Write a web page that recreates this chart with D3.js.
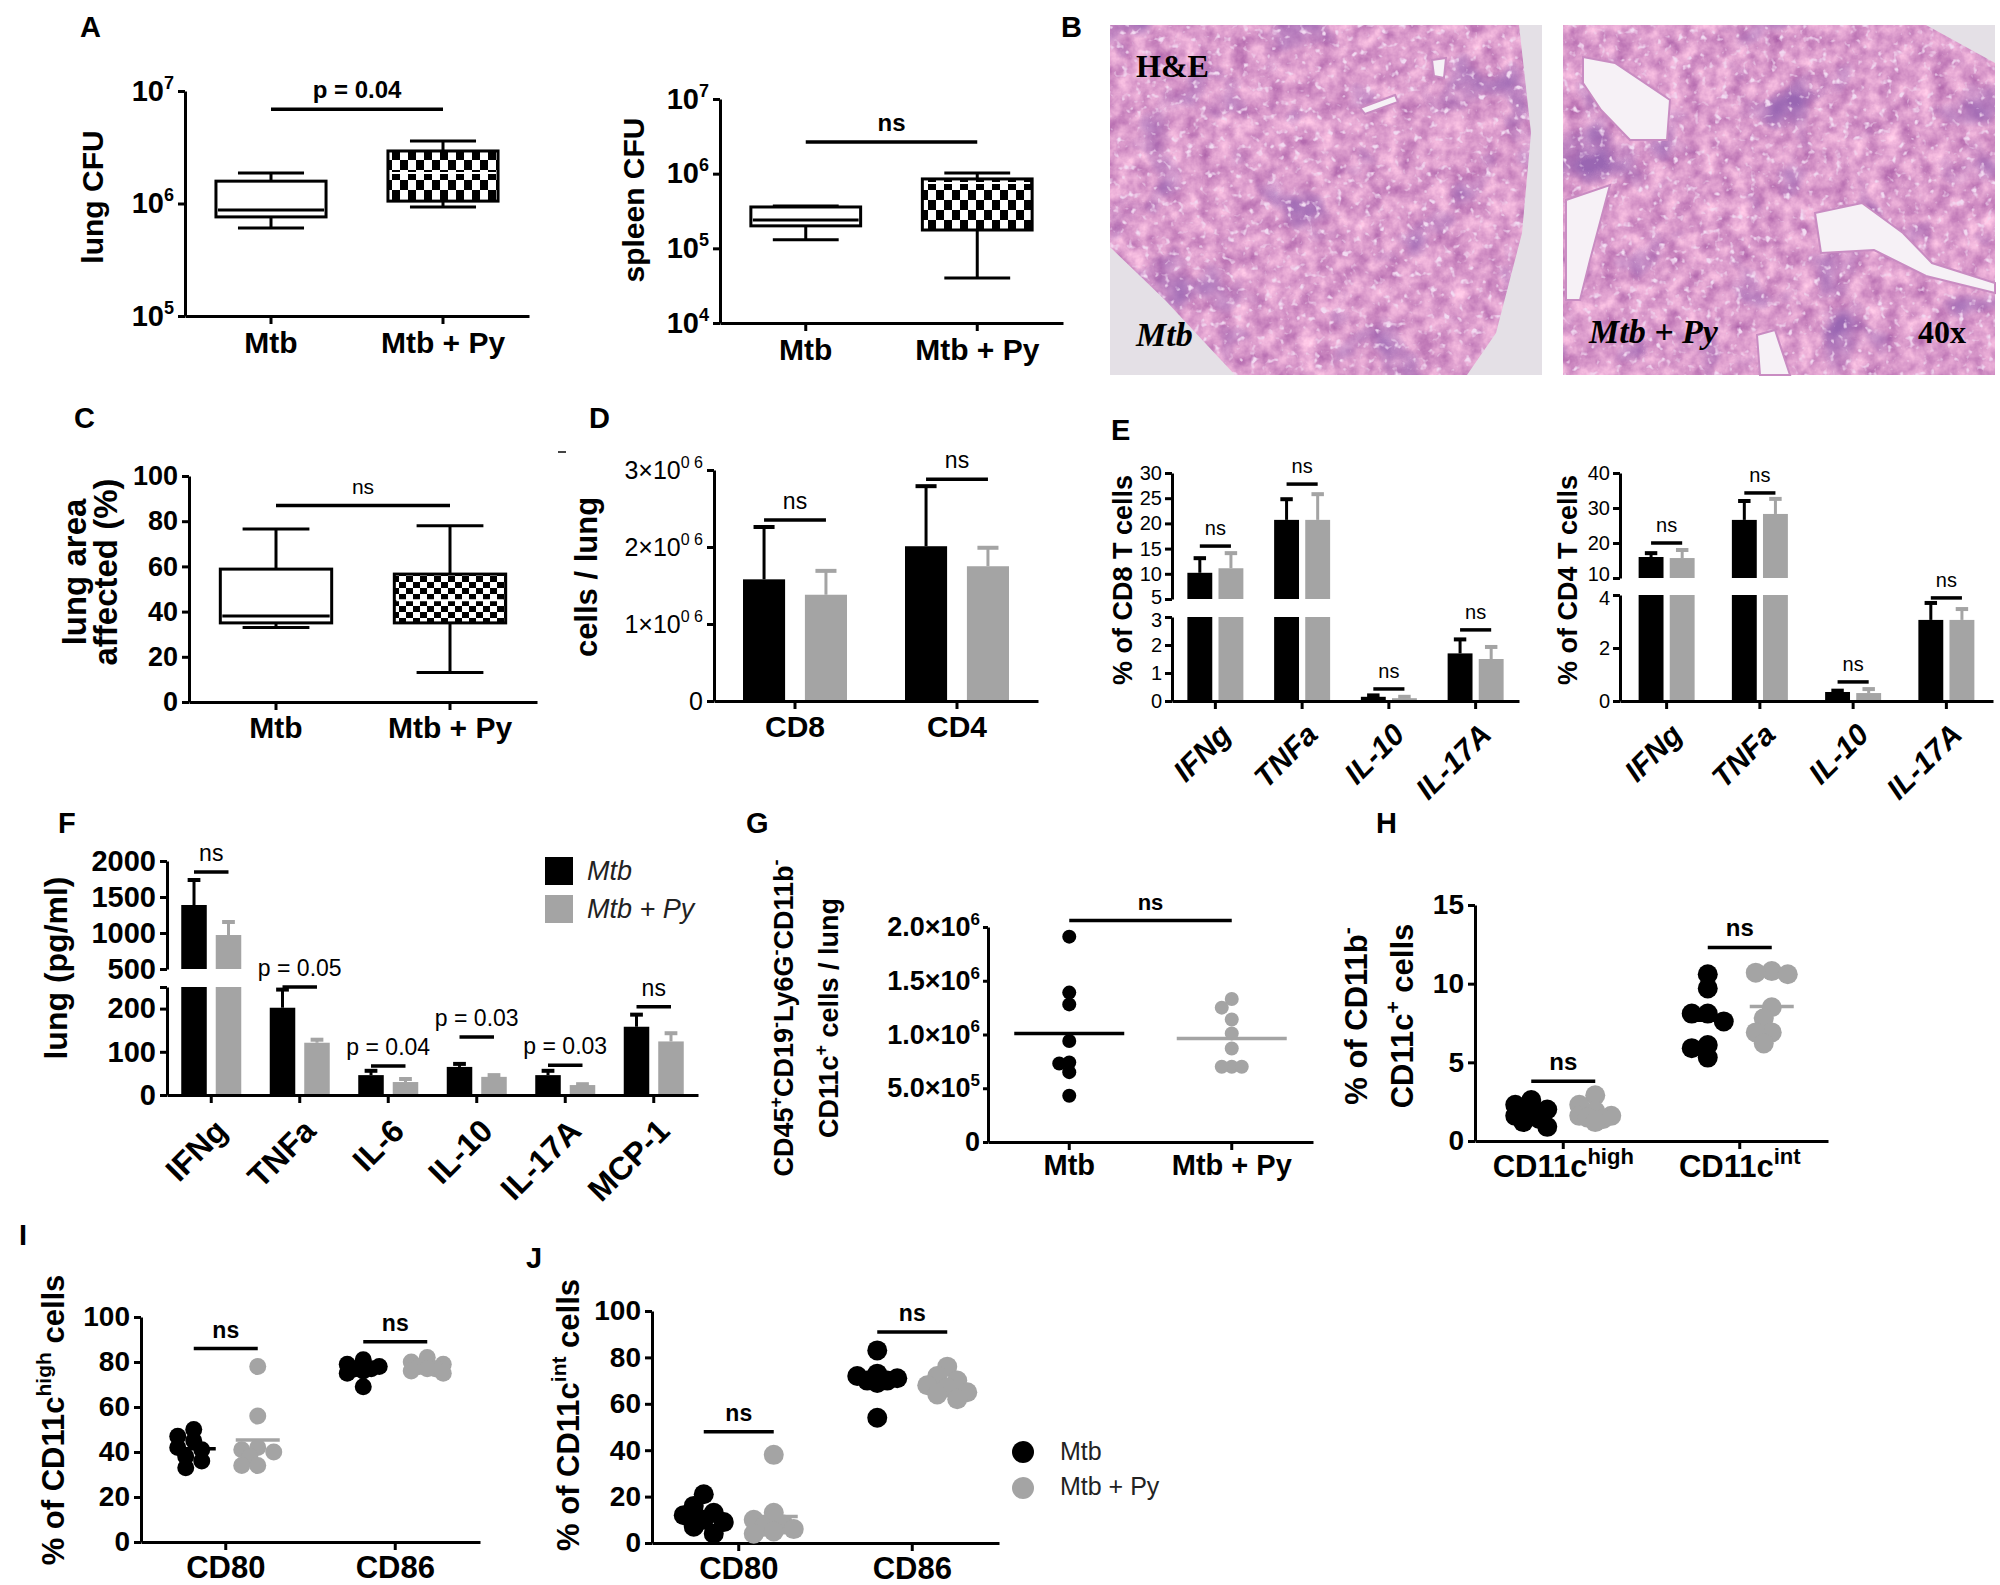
<!DOCTYPE html>
<html>
<head>
<meta charset="utf-8">
<script src="https://d3js.org/d3.v7.min.js"></script>
<style>
  body { margin: 0; background: #fff; }
  svg { display: block; }
</style>
</head>
<body>
<svg id="fig" width="2000" height="1585"></svg>
<script>
// ---------------- data ----------------
const groups = ['Mtb', 'Mtb + Py'];

// box plots, each [min, q1, median, q3, max]
const lungCfu = [[6.05e5, 7.6e5, 8.75e5, 1.58e6, 1.87e6], [9.3e5, 1.05e6, 1.87e6, 2.93e6, 3.6e6]];
const spleenCfu = [[1.3e5, 2.0e5, 2.4e5, 3.58e5, 3.7e5], [4.0e4, 1.76e5, 7.5e5, 8.5e5, 1.02e6]];
const lungArea = [[33, 35, 38, 58.8, 76.5], [13, 35, 45, 56.6, 78]];

// D: T cells per lung
const tCells = ['CD8', 'CD4'];
const cellsMtb = [1.58e6, 2.01e6];
const cellsMtbErr = [0.68e6, 0.78e6];
const cellsPy = [1.38e6, 1.75e6];
const cellsPyErr = [0.31e6, 0.24e6];

// E: intracellular cytokines
const eCytokines = ['IFNg', 'TNFa', 'IL-10', 'IL-17A'];
const cd8Mtb = [10.2, 20.7, 0.15, 1.7];
const cd8MtbErr = [2.9, 4.1, 0.05, 0.5];
const cd8Py = [11.1, 20.7, 0.1, 1.5];
const cd8PyErr = [3.0, 5.1, 0.05, 0.43];
const cd4Mtb = [16, 26.6, 0.34, 3.06];
const cd4MtbErr = [1.1, 5.4, 0.05, 0.64];
const cd4Py = [15.7, 28.3, 0.3, 3.06];
const cd4PyErr = [2.3, 4.3, 0.15, 0.41];

// F: lung cytokines (pg/ml)
const fCytokines = ['IFNg', 'TNFa', 'IL-6', 'IL-10', 'IL-17A', 'MCP-1'];
const lungMtb = [1389, 202, 46, 65, 46, 158];
const lungMtbErr = [347, 42, 10, 7, 10, 28];
const lungPy = [972, 121, 30, 42, 23, 124];
const lungPyErr = [181, 7, 7, 4, 2, 19];
const fStats = ['ns', 'p = 0.05', 'p = 0.04', 'p = 0.03', 'p = 0.03', 'ns'];

// G: cells per lung
const gMtb = [1.91e6, 1.39e6, 1.28e6, 0.94e6, 0.74e6, 0.73e6, 0.65e6, 0.43e6];
const gPy = [1.33e6, 1.25e6, 1.14e6, 1.01e6, 0.87e6, 0.70e6, 0.70e6, 0.70e6];

// H: subsets
const subsets = ['CD11c^{high}', 'CD11c^{int}'];
const hMtb = [[2.6, 2.3, 2.0, 1.8, 1.6, 1.4, 1.2, 0.9], [10.6, 9.7, 8.1, 8.1, 7.6, 6.1, 5.9, 5.3]];
const hPy = [[2.9, 2.3, 1.9, 1.6, 1.6, 1.5, 1.4, 1.2], [10.8, 10.7, 10.6, 8.5, 7.8, 6.9, 6.9, 6.2]];

// I, J: activation markers
const markers = ['CD80', 'CD86'];
const iMtb = [[50, 47, 45, 42, 41, 38, 36, 33], [81, 79, 78, 77, 77, 76, 75, 69]];
const iPy = [[78, 56, 42, 41, 40, 38, 34, 34], [82, 80, 79, 78, 77, 77, 76, 75]];
const jMtb = [[21, 16, 13, 12, 10, 9, 7, 4], [83, 73, 72, 71, 70, 70, 69, 54]];
const jPy = [[38, 13, 10, 8, 7, 6, 5, 4], [76, 72, 70, 68, 67, 65, 64, 62]];

// significance bar heights (data units)
const aBars = [6.9e6, 2.65e6];
const cBar = 87;
const dBars = [2.35e6, 2.88e6];
const eBars8 = [15.5, 27.8, 0.43, 2.54];
const eBars4 = [20, 34.3, 0.72, 3.89];
const fBars = [1847, 250, 67, 134, 69, 204];
const gBar = 2.06e6;
const hBars = [3.8, 12.3];
const iBars = [86, 89];
const jBars = [48, 91];

// ---------------- setup ----------------
const SANS = '"Liberation Sans", Arial, Helvetica, sans-serif';
const SERIF = '"Liberation Serif", "Times New Roman", serif';
const DARK = '#000';
const GREY = '#a4a4a4';
const LINE = 3;

const svg = d3.select('#fig');
const defs = svg.append('defs');
svg.append('rect').attr('width', 2000).attr('height', 1585).attr('fill', '#fff');

function checker(id, w, h) {
  const p = defs.append('pattern').attr('id', id).attr('patternUnits', 'userSpaceOnUse')
    .attr('width', 2 * w).attr('height', 2 * h);
  p.append('rect').attr('width', 2 * w).attr('height', 2 * h).attr('fill', '#fff');
  p.append('rect').attr('width', w).attr('height', h).attr('fill', DARK);
  p.append('rect').attr('x', w).attr('y', h).attr('width', w).attr('height', h).attr('fill', DARK);
}
checker('chkA', 8, 10);
checker('chkC', 7, 6);

// text with ^{sup} parts
function rich(t, str, fs, supFs) {
  t.text(null);
  let raised = false;
  String(str).split(/(\^\{[^}]*\})/).filter(s => s.length).forEach(p => {
    const m = p.match(/^\^\{([^}]*)\}$/);
    if (m) {
      t.append('tspan').attr('font-size', supFs).attr('dy', -fs * 0.42).text(m[1]);
      raised = true;
    } else {
      const sp = t.append('tspan').text(p);
      if (raised) { sp.attr('dy', fs * 0.42); raised = false; }
    }
  });
}

function label(g, x, y, str, fs, o = {}) {
  const t = g.append('text').attr('x', x).attr('y', y)
    .attr('text-anchor', o.anchor || 'start')
    .attr('font-family', o.family || SANS).attr('font-size', fs)
    .attr('font-weight', o.fw || 'normal').attr('font-style', o.italic ? 'italic' : 'normal')
    .attr('fill', o.fill || DARK);
  rich(t, str, fs, Math.round(fs * 0.68));
  return t;
}

function yLabel(g, lines, xs, cy, fs) {
  lines.forEach((s, i) => {
    const t = g.append('text').attr('transform', `translate(${xs[i]},${cy}) rotate(-90)`)
      .attr('text-anchor', 'middle').attr('font-family', SANS).attr('font-size', fs)
      .attr('font-weight', 'bold').attr('fill', DARK);
    rich(t, s, fs, Math.round(fs * 0.68));
  });
}

function styleAxis(ax, o) {
  ax.attr('font-family', null).attr('font-size', null);
  ax.select('.domain').attr('stroke', DARK).attr('stroke-width', LINE);
  ax.selectAll('.tick line').attr('stroke', DARK).attr('stroke-width', LINE);
  ax.selectAll('.tick text').attr('fill', DARK).attr('font-family', SANS)
    .attr('font-size', o.fs).attr('font-weight', o.fw || 'bold')
    .attr('font-style', o.italic ? 'italic' : 'normal');
}

function yAxis(g, scale, x, ticks, o) {
  const ax = g.append('g').attr('transform', `translate(${x},0)`)
    .call(d3.axisLeft(scale).tickValues(ticks).tickSize(o.ts || 7).tickSizeOuter(0)
      .tickPadding(o.pad || 4).tickFormat(o.fmt || (d => d)));
  styleAxis(ax, o);
  if (o.rich) ax.selectAll('.tick text').each(function (d) { rich(d3.select(this), o.rich(d), o.fs, o.supFs); });
  return ax;
}

function xAxis(g, band, y, o) {
  const ax = g.append('g').attr('transform', `translate(0,${y})`)
    .call(d3.axisBottom(band).tickSize(o.ts || 8).tickSizeOuter(0));
  styleAxis(ax, o);
  const txt = ax.selectAll('.tick text');
  if (o.rotate) {
    txt.attr('x', 0).attr('y', 0).attr('dy', '0.35em').attr('text-anchor', 'end')
      .attr('transform', `translate(${o.rotate[0]},${o.rotate[1]}) rotate(-45)`);
  } else {
    txt.attr('dy', null).attr('y', o.ly);
  }
  if (o.supFs) txt.each(function (d) { rich(d3.select(this), d, o.fs, o.supFs); });
  return ax;
}

function bracket(g, xa, xb, y, text, fs, fw) {
  g.append('line').attr('x1', xa).attr('x2', xb).attr('y1', y).attr('y2', y)
    .attr('stroke', DARK).attr('stroke-width', 3.5);
  label(g, (xa + xb) / 2, y - 11, text, fs, { anchor: 'middle', fw: fw || 'normal' });
}

const mid = (band, c) => band(c) + band.bandwidth() / 2;

function boxes(g, x, y, data, fill) {
  const bw = x.bandwidth() * 0.64, cw = bw * 0.6;
  data.forEach((s, i) => {
    const c = mid(x, groups[i]);
    const [lo, q1, md, q3, hi] = s.map(y);
    const st = sel => sel.attr('stroke', DARK).attr('stroke-width', LINE);
    st(g.append('line').attr('x1', c).attr('x2', c).attr('y1', hi).attr('y2', lo));
    st(g.append('line').attr('x1', c - cw / 2).attr('x2', c + cw / 2).attr('y1', hi).attr('y2', hi));
    st(g.append('line').attr('x1', c - cw / 2).attr('x2', c + cw / 2).attr('y1', lo).attr('y2', lo));
    st(g.append('rect').attr('x', c - bw / 2).attr('y', q3).attr('width', bw).attr('height', q1 - q3)
      .attr('fill', i ? fill : '#fff'));
    g.append('line').attr('x1', c - bw / 2 + 2).attr('x2', c + bw / 2 - 2).attr('y1', md).attr('y2', md)
      .attr('stroke', i ? '#fff' : DARK).attr('stroke-width', i ? 2 : LINE);
  });
}

function bars(g, o) {
  const sub = d3.scaleBand().domain([0, 1]).range(o.subRange).paddingInner(o.subPad);
  const bw = sub.bandwidth();
  const segOf = v => o.segs.find(s => v <= s.domain[1]) || o.segs[o.segs.length - 1];
  const yOf = v => segOf(v).scale(v);
  const cx = (c, si) => mid(o.x, c) + sub(si) + bw / 2;
  o.series.forEach((s, si) => {
    o.cats.forEach((c, ci) => {
      const v = s.vals[ci], top = yOf(v + s.errs[ci]), x = cx(c, si);
      g.append('line').attr('x1', x).attr('x2', x).attr('y1', yOf(v)).attr('y2', top)
        .attr('stroke', s.color).attr('stroke-width', LINE);
      g.append('line').attr('x1', x - bw * 0.25).attr('x2', x + bw * 0.25).attr('y1', top).attr('y2', top)
        .attr('stroke', s.color).attr('stroke-width', LINE + 1);
      o.segs.forEach(sg => {
        if (v <= sg.domain[0]) return;
        const y1 = sg.scale(Math.min(v, sg.domain[1])), y0 = sg.scale(sg.domain[0]);
        g.append('rect').attr('x', x - bw / 2).attr('y', y1).attr('width', bw).attr('height', y0 - y1)
          .attr('fill', s.color);
      });
    });
  });
  return { yOf, cx };
}

function segments(list) {
  return list.map(s => ({ ...s, scale: d3.scaleLinear().domain(s.domain).range(s.range) }));
}

// broken axis: one axis per segment; the two labels either side of the break are nudged apart
function brokenAxis(g, segs, x, o) {
  const base = 0.32 * o.fs;
  segs.forEach((s, i) => {
    const ax = yAxis(g, s.scale, x, s.ticks, o);
    ax.selectAll('.tick text').filter(d => i === 0 && d === s.domain[1]).attr('dy', base + o.shift[0]);
    ax.selectAll('.tick text').filter(d => i === 1 && d === s.domain[0]).attr('dy', base - o.shift[1]);
  });
}

// simple beeswarm: spread points that would overlap, limited to a few steps either side
function swarm(vals, y, cx, r, step, maxK) {
  const pts = vals.map(v => ({ v, y: y(v) })).sort((a, b) => a.y - b.y);
  const done = [];
  pts.forEach(p => {
    let best = 0, bestD = -1;
    for (let k = 0; k <= maxK; k++) {
      const off = Math.ceil(k / 2) * step * (k % 2 ? -1 : 1);
      const dmin = done.length ? d3.min(done, q => Math.hypot(q.x - cx - off, q.y - p.y)) : Infinity;
      if (dmin >= r * 1.25) { best = off; break; }
      if (dmin > bestD) { bestD = dmin; best = off; }
    }
    p.x = cx + best;
    done.push(p);
  });
  return done;
}

function scatter(g, vals, y, cx, o, color) {
  swarm(vals, y, cx, o.r, o.step, o.maxK).forEach(p => {
    g.append('circle').attr('cx', p.x).attr('cy', p.y).attr('r', o.r).attr('fill', color);
  });
  const m = y(d3.mean(vals));
  g.append('line').attr('x1', cx - o.half).attr('x2', cx + o.half).attr('y1', m).attr('y2', m)
    .attr('stroke', color).attr('stroke-width', LINE + 0.5);
}

// ---------------- panel letters ----------------
const letters = ['A', 'B', 'C', 'D', 'E', 'F', 'G', 'H', 'I', 'J'];
const letterPos = [[80, 37], [1061, 37], [74, 428], [589, 428], [1111, 440], [58, 833], [746, 833], [1376, 833], [19, 1245], [526, 1268]];
letters.forEach((l, i) => label(svg, letterPos[i][0], letterPos[i][1], l, 29, { fw: 'bold' }));

const pow10 = d => `10^{${Math.round(Math.log10(d))}}`;

// ---------------- A: lung CFU ----------------
{
  const g = svg.append('g');
  const y = d3.scaleLog().domain([1e5, 1e7]).range([316, 91]);
  const x = d3.scaleBand().domain(groups).range([185, 529]);
  boxes(g, x, y, lungCfu, 'url(#chkA)');
  yAxis(g, y, 185, [1e5, 1e6, 1e7], { fs: 29, supFs: 18, rich: pow10 });
  xAxis(g, x, 316, { fs: 30, ly: 37 });
  bracket(g, mid(x, groups[0]), mid(x, groups[1]), y(aBars[0]), 'p = 0.04', 24, 'bold');
  yLabel(g, ['lung CFU'], [103], 197, 30);
}
// ---------------- A: spleen CFU ----------------
{
  const g = svg.append('g');
  const y = d3.scaleLog().domain([1e4, 1e7]).range([323, 99]);
  const x = d3.scaleBand().domain(groups).range([720, 1063]);
  boxes(g, x, y, spleenCfu, 'url(#chkA)');
  yAxis(g, y, 720, [1e4, 1e5, 1e6, 1e7], { fs: 29, supFs: 18, rich: pow10 });
  xAxis(g, x, 323, { fs: 30, ly: 37 });
  bracket(g, mid(x, groups[0]), mid(x, groups[1]), y(aBars[1]), 'ns', 24, 'bold');
  yLabel(g, ['spleen CFU'], [644], 200, 30);
}

// ---------------- B: histology ----------------
function tissueFilter(id, x, y, w, h, seed) {
  const f = defs.append('filter').attr('id', id).attr('filterUnits', 'userSpaceOnUse')
    .attr('x', x).attr('y', y).attr('width', w).attr('height', h)
    .attr('color-interpolation-filters', 'sRGB');
  f.append('feTurbulence').attr('type', 'fractalNoise').attr('baseFrequency', 0.06)
    .attr('numOctaves', 4).attr('seed', seed).attr('result', 'n1');
  f.append('feColorMatrix').attr('in', 'n1').attr('type', 'matrix')
    .attr('values', '0.4 0 0 0 0.66  0.5 0 0 0 0.36  0.3 0 0 0 0.65  0 0 0 0 1').attr('result', 'base');
  f.append('feTurbulence').attr('type', 'fractalNoise').attr('baseFrequency', 0.016)
    .attr('numOctaves', 3).attr('seed', seed + 11).attr('result', 'n2');
  f.append('feColorMatrix').attr('in', 'n2').attr('type', 'matrix')
    .attr('values', '0 0 0 0 0.6  0 0 0 0 0.4  0 0 0 0 0.7  3.4 0 0 0 -1.95').attr('result', 'purple');
  f.append('feTurbulence').attr('type', 'fractalNoise').attr('baseFrequency', 0.14)
    .attr('numOctaves', 2).attr('seed', seed + 23).attr('result', 'n3');
  f.append('feColorMatrix').attr('in', 'n3').attr('type', 'matrix')
    .attr('values', '0 0 0 0 0.95  0 0 0 0 0.86  0 0 0 0 0.95  5 0 0 0 -3.05').attr('result', 'holes');
  const m = f.append('feMerge');
  ['base', 'purple', 'holes'].forEach(n => m.append('feMergeNode').attr('in', n));
}
function tissue(id, frame, outline, vessels, seed) {
  const [x, y, w, h] = frame;
  tissueFilter('f' + id, x, y, w, h, seed);
  defs.append('clipPath').attr('id', 'c' + id).append('polygon').attr('points', outline.join(' '));
  const g = svg.append('g');
  g.append('rect').attr('x', x).attr('y', y).attr('width', w).attr('height', h).attr('fill', '#e4e0e6');
  g.append('rect').attr('x', x).attr('y', y).attr('width', w).attr('height', h)
    .attr('filter', `url(#f${id})`).attr('clip-path', `url(#c${id})`);
  vessels.forEach(v => g.append('polygon').attr('points', v.join(' '))
    .attr('fill', '#f6f1f6').attr('stroke', '#c98cc2').attr('stroke-width', 2));
  return g;
}
{
  const gl = tissue('L', [1110, 25, 432, 350],
    [[1110, 25], [1519, 25], [1531, 133], [1522, 233], [1496, 333], [1467, 375], [1235, 375], [1165, 300], [1110, 247]],
    [[[1360, 108], [1395, 95], [1398, 102], [1365, 114]], [[1432, 60], [1446, 58], [1444, 78], [1434, 76]]], 4);
  label(gl, 1136, 77, 'H&E', 32, { family: SERIF, fw: 'bold' });
  label(gl, 1136, 346, 'Mtb', 34, { family: SERIF, fw: 'bold', italic: true });
  const gr = tissue('R', [1563, 25, 432, 350],
    [[1563, 25], [1926, 25], [1995, 63], [1995, 375], [1563, 375]],
    [[[1583, 57], [1615, 63], [1670, 100], [1667, 140], [1630, 140], [1601, 110], [1583, 83]],
     [[1566, 200], [1610, 185], [1590, 260], [1580, 300], [1566, 300]],
     [[1815, 213], [1862, 203], [1903, 233], [1932, 263], [1995, 283], [1995, 293], [1926, 276], [1874, 250], [1821, 253]],
     [[1757, 335], [1775, 330], [1790, 375], [1760, 375]]], 9);
  label(gr, 1589, 343, 'Mtb + Py', 34, { family: SERIF, fw: 'bold', italic: true });
  label(gr, 1966, 343, '40x', 32, { family: SERIF, fw: 'bold', anchor: 'end' });
}

// ---------------- C: lung area affected ----------------
{
  const g = svg.append('g');
  const y = d3.scaleLinear().domain([0, 100]).range([702, 476]);
  const x = d3.scaleBand().domain(groups).range([189, 537]);
  boxes(g, x, y, lungArea, 'url(#chkC)');
  yAxis(g, y, 189, d3.range(0, 101, 20), { fs: 27 });
  xAxis(g, x, 702, { fs: 30, ly: 36 });
  bracket(g, mid(x, groups[0]), mid(x, groups[1]), y(cBar), 'ns', 21);
  yLabel(g, ['lung area', 'affected (%)'], [86, 117], 572, 33);
}

// ---------------- D: T cells ----------------
{
  const g = svg.append('g');
  const segs = segments([{ domain: [0, 3e6], range: [701, 470] }]);
  const x = d3.scaleBand().domain(tCells).range([714, 1038]);
  const b = bars(g, { cats: tCells, x, segs, subRange: [-52, 52], subPad: 0.32,
    series: [{ vals: cellsMtb, errs: cellsMtbErr, color: DARK }, { vals: cellsPy, errs: cellsPyErr, color: GREY }] });
  yAxis(g, segs[0].scale, 714, [0, 1e6, 2e6, 3e6],
    { fs: 25, fw: 'normal', supFs: 16, rich: d => d === 0 ? '0' : `${d / 1e6}×10^{0 6}` });
  xAxis(g, x, 701, { fs: 30, ly: 36 });
  tCells.forEach((c, i) => bracket(g, b.cx(c, 0), b.cx(c, 1), b.yOf(dBars[i]), 'ns', 23));
  yLabel(g, ['cells / lung'], [597], 577, 31);
  g.append('line').attr('x1', 558).attr('x2', 566).attr('y1', 452).attr('y2', 452)
    .attr('stroke', '#444').attr('stroke-width', 2);
}

// ---------------- E: CD8 / CD4 cytokines ----------------
function cytoPanel(cfg) {
  const g = svg.append('g');
  const segs = segments(cfg.segs);
  const x = d3.scaleBand().domain(eCytokines).range([cfg.x0, cfg.x1]);
  const b = bars(g, { cats: eCytokines, x, segs, subRange: [-28, 28], subPad: 0.2,
    series: [{ vals: cfg.mtb, errs: cfg.mtbErr, color: DARK }, { vals: cfg.py, errs: cfg.pyErr, color: GREY }] });
  brokenAxis(g, segs, cfg.x0, { fs: 20, fw: 'normal', pad: 3, shift: cfg.shift });
  xAxis(g, x, 701, { fs: 30, italic: true, rotate: [10, 28] });
  eCytokines.forEach((c, i) => bracket(g, b.cx(c, 0), b.cx(c, 1), b.yOf(cfg.brackets[i]), 'ns', 20));
  yLabel(g, [cfg.title], [cfg.labelX], 580, 27);
}
cytoPanel({ x0: 1172, x1: 1519, labelX: 1132, title: '% of CD8 T cells', shift: [3, 2],
  segs: [{ domain: [0, 3], range: [701, 617], ticks: [0, 1, 2, 3] },
         { domain: [5, 30], range: [599, 473], ticks: [5, 10, 15, 20, 25, 30] }],
  mtb: cd8Mtb, mtbErr: cd8MtbErr, py: cd8Py, pyErr: cd8PyErr, brackets: eBars8 });
cytoPanel({ x0: 1620, x1: 1993, labelX: 1577, title: '% of CD4 T cells', shift: [3, 4],
  segs: [{ domain: [0, 4], range: [701, 595], ticks: [0, 2, 4] },
         { domain: [10, 40], range: [578, 473], ticks: [10, 20, 30, 40] }],
  mtb: cd4Mtb, mtbErr: cd4MtbErr, py: cd4Py, pyErr: cd4PyErr, brackets: eBars4 });

// ---------------- F: lung cytokines ----------------
{
  const g = svg.append('g');
  const segs = segments([{ domain: [0, 250], range: [1095, 987], ticks: [0, 100, 200, 250] },
                         { domain: [500, 2000], range: [969, 861], ticks: [500, 1000, 1500, 2000] }]);
  const x = d3.scaleBand().domain(fCytokines).range([167, 698]);
  const b = bars(g, { cats: fCytokines, x, segs, subRange: [-30, 30], subPad: 0.26,
    series: [{ vals: lungMtb, errs: lungMtbErr, color: DARK }, { vals: lungPy, errs: lungPyErr, color: GREY }] });
  segs.forEach(s => yAxis(g, s.scale, 167, s.ticks, { fs: 29, fmt: d => d === 250 ? '' : d }));
  xAxis(g, x, 1095, { fs: 32, rotate: [10, 30] });
  fCytokines.forEach((c, i) => bracket(g, b.cx(c, 0), b.cx(c, 1), b.yOf(fBars[i]), fStats[i], 23));
  yLabel(g, ['lung (pg/ml)'], [67], 968, 32);
  // legend
  [DARK, GREY].forEach((col, i) => {
    g.append('rect').attr('x', 545).attr('y', 857 + i * 38).attr('width', 28).attr('height', 28).attr('fill', col);
    label(g, 587, 880 + i * 38, groups[i], 27, { italic: true, fill: '#222' });
  });
}

// ---------------- G: DC numbers ----------------
{
  const g = svg.append('g');
  const y = d3.scaleLinear().domain([0, 2e6]).range([1142, 927]);
  const x = d3.scaleBand().domain(groups).range([988, 1313]);
  yAxis(g, y, 988, [0, 5e5, 1e6, 1.5e6, 2e6], { fs: 27, supFs: 17, ts: 5, pad: 3,
    rich: d => { if (d === 0) return '0'; const e = Math.floor(Math.log10(d)); return `${(d / 10 ** e).toFixed(1)}×10^{${e}}`; } });
  xAxis(g, x, 1142, { fs: 29, ly: 33 });
  scatter(g, gMtb, y, mid(x, groups[0]), { r: 7, step: 10, half: 55, maxK: 4 }, DARK);
  scatter(g, gPy, y, mid(x, groups[1]), { r: 7, step: 10, half: 55, maxK: 4 }, GREY);
  bracket(g, mid(x, groups[0]), mid(x, groups[1]), y(gBar), 'ns', 22, 'bold');
  yLabel(g, ['CD45^{+}CD19^{-}Ly6G^{-}CD11b^{-}', 'CD11c^{+} cells / lung'], [793, 838], 1018, 27);
}

// ---------------- H, I, J: scatter panels ----------------
function dotPanel(cfg) {
  const g = svg.append('g');
  const y = d3.scaleLinear().domain(cfg.domain).range([cfg.y0, cfg.y1]);
  const x = d3.scaleBand().domain(cfg.cats).range([cfg.x0, cfg.x1]);
  yAxis(g, y, cfg.x0, cfg.ticks, { fs: 28 });
  xAxis(g, x, cfg.y0, { fs: 31, ly: 36, supFs: cfg.supFs });
  cfg.cats.forEach((c, i) => {
    const c0 = mid(x, c) - cfg.off, c1 = mid(x, c) + cfg.off;
    scatter(g, cfg.mtb[i], y, c0, cfg.dot, DARK);
    scatter(g, cfg.py[i], y, c1, cfg.dot, GREY);
    bracket(g, c0, c1, y(cfg.brackets[i]), 'ns', cfg.nsFs, 'bold');
  });
  yLabel(g, cfg.title, cfg.labelX, cfg.labelY, 31);
  return g;
}
dotPanel({ cats: subsets, domain: [0, 15], y0: 1141, y1: 905, x0: 1475, x1: 1828, ticks: [0, 5, 10, 15],
  supFs: 22, off: 32, dot: { r: 10, step: 8, half: 22, maxK: 4 }, mtb: hMtb, py: hPy, brackets: hBars, nsFs: 24,
  title: ['% of CD11b^{-}', 'CD11c^{+} cells'], labelX: [1367, 1413], labelY: 1016 });
dotPanel({ cats: markers, domain: [0, 100], y0: 1542, y1: 1317, x0: 141, x1: 480, ticks: d3.range(0, 101, 20),
  off: 32, dot: { r: 8.5, step: 8, half: 22, maxK: 4 }, mtb: iMtb, py: iPy, brackets: iBars, nsFs: 23,
  title: ['% of CD11c^{high} cells'], labelX: [64], labelY: 1420 });
const gJ = dotPanel({ cats: markers, domain: [0, 100], y0: 1543, y1: 1311, x0: 652, x1: 999, ticks: d3.range(0, 101, 20),
  off: 35, dot: { r: 10, step: 10, half: 24, maxK: 4 }, mtb: jMtb, py: jPy, brackets: jBars, nsFs: 23,
  title: ['% of CD11c^{int} cells'], labelX: [579], labelY: 1415 });
[DARK, GREY].forEach((col, i) => {
  gJ.append('circle').attr('cx', 1023).attr('cy', 1452 + i * 36).attr('r', 11).attr('fill', col);
  label(gJ, 1060, 1460 + i * 35, groups[i], 25, { fill: '#222' });
});
</script>
</body>
</html>
